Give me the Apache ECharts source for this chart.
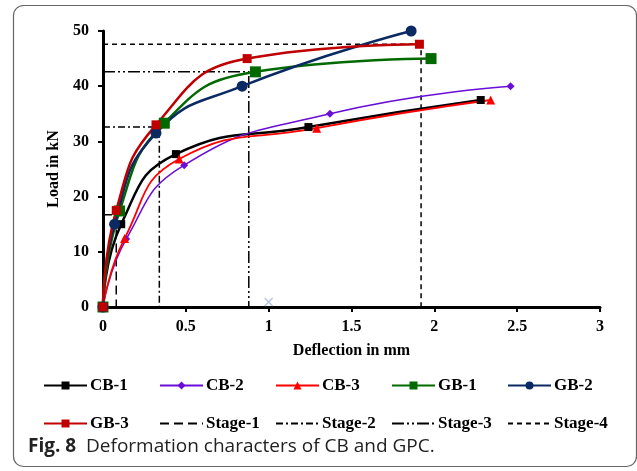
<!DOCTYPE html>
<html>
<head>
<meta charset="utf-8">
<script src="https://cdn.jsdelivr.net/npm/echarts@6/dist/echarts.min.js"></script>
<style>html,body{margin:0;padding:0;background:#fff}#c{width:637px;height:471px}</style>
</head>
<body>
<div id="c"></div>
<script>
// ---- data ----
const seriesNames = ['CB-1','CB-2','CB-3','GB-1','GB-2','GB-3'];
const cb1Defl = [0, 0.11, 0.44, 1.24, 2.28];
const cb1Load = [0, 15.0, 27.7, 32.6, 37.5];
const cb2Defl = [0, 0.14, 0.49, 1.37, 2.46];
const cb2Load = [0, 12.3, 25.7, 35.0, 40.0];
const cb3Defl = [0, 0.13, 0.46, 1.29, 2.34];
const cb3Load = [0, 12.4, 26.8, 32.4, 37.5];
const gb1Defl = [0, 0.10, 0.37, 0.92, 1.98];
const gb1Load = [0, 17.4, 33.3, 42.6, 45.0];
const gb2Defl = [0, 0.07, 0.32, 0.84, 1.86];
const gb2Load = [0, 15.0, 31.5, 40.0, 50.0];
const gb3Defl = [0, 0.08, 0.32, 0.87, 1.91];
const gb3Load = [0, 17.5, 33.0, 45.0, 47.6];

const stageNames = ['Stage-1','Stage-2','Stage-3','Stage-4'];
const stageDefl = [0.08, 0.34, 0.88, 1.92];
const stageLoad = [16.7, 32.6, 42.6, 47.6];

const strayDefl = [1.0];
const strayLoad = [0.9];

const xTicks = [0, 0.5, 1, 1.5, 2, 2.5, 3];
const yTicks = [0, 10, 20, 30, 40, 50];

// ---- styles ----
const serif = 'Liberation Serif';
const looks = {
  'CB-1': {color:'#000000', symbol:'rect', size:8, width:2.5},
  'CB-2': {color:'#6A0DD6', symbol:'diamond', size:8, width:1.5},
  'CB-3': {color:'#FF0000', symbol:'triangle', size:9, width:1.8},
  'GB-1': {color:'#006A00', symbol:'rect', size:11, width:2.5},
  'GB-2': {color:'#0B2A63', symbol:'circle', size:11, width:2.5},
  'GB-3': {color:'#C00000', symbol:'rect', size:9, width:2.5}
};
const stageDash = [[9,5],[7,3,2,3],[12,3,2,3,2,3],[5,4]];

const pairs = (xs, ys) => xs.map((x, i) => [x, ys[i]]);
const curveData = {
  'CB-1': pairs(cb1Defl, cb1Load), 'CB-2': pairs(cb2Defl, cb2Load),
  'CB-3': pairs(cb3Defl, cb3Load), 'GB-1': pairs(gb1Defl, gb1Load),
  'GB-2': pairs(gb2Defl, gb2Load), 'GB-3': pairs(gb3Defl, gb3Load)
};

const series = [];
stageNames.forEach((n, i) => {
  series.push({
    name: n, type: 'line', symbol: 'none', silent: true, z: 1,
    data: [[0, stageLoad[i]], [stageDefl[i], stageLoad[i]], [stageDefl[i], 0]],
    lineStyle: {color: '#000', width: 1.5, type: stageDash[i]},
    itemStyle: {color: '#000'}
  });
});
seriesNames.forEach(n => {
  const L = looks[n];
  series.push({
    name: n, type: 'line', smooth: 0.5, z: 3,
    data: curveData[n], symbol: L.symbol, symbolSize: L.size, showSymbol: true,
    lineStyle: {color: L.color, width: L.width},
    itemStyle: {color: L.color}
  });
});
series.push({
  name: 'stray', type: 'scatter', data: pairs(strayDefl, strayLoad), silent: true,
  symbol: 'path://M0,0L10,10M10,0L0,10', symbolSize: 8,
  itemStyle: {color: 'none', borderColor: '#9FB0DA', borderWidth: 1.2}
});

// legend layout
const legendOrder = ['CB-1','CB-2','CB-3','GB-1','GB-2','GB-3','Stage-1','Stage-2','Stage-3','Stage-4'];
const legendCols = [43, 159, 275, 391, 507];
const legendRows = [377, 415];
const legends = legendOrder.map((n, i) => {
  const isStage = n.indexOf('Stage') === 0;
  const lg = {
    data: [n], left: legendCols[i % 5], top: legendRows[Math.floor(i / 5)],
    padding: 0, itemWidth: 43, itemHeight: 10, itemGap: 0, selectedMode: false,
    textStyle: {fontFamily: serif, fontWeight: 'bold', fontSize: 17, color: '#000', padding: [0,0,0,-2]}
  };
  if (isStage) lg.itemStyle = {opacity: 0};
  return lg;
});

const chart = echarts.init(document.getElementById('c'), null, {renderer: 'canvas'});
chart.setOption({
  animation: false,
  backgroundColor: '#fff',
  grid: {left: 103, right: 37, top: 31, bottom: 164},
  xAxis: {
    type: 'value', min: xTicks[0], max: xTicks[xTicks.length - 1], interval: 0.5,
    name: 'Deflection in mm', nameLocation: 'middle', nameGap: 36,
    nameTextStyle: {fontFamily: serif, fontWeight: 'bold', fontSize: 16, color: '#000'},
    axisLine: {onZero: false, lineStyle: {color: '#000', width: 3}},
    axisTick: {show: true, length: 5, lineStyle: {color: '#000', width: 2}},
    axisLabel: {margin: 12, fontFamily: serif, fontWeight: 'bold', fontSize: 16, color: '#000',
      formatter: v => String(v)},
    splitLine: {show: false}
  },
  yAxis: {
    type: 'value', min: yTicks[0], max: yTicks[yTicks.length - 1], interval: 10,
    name: 'Load in kN', nameLocation: 'middle', nameGap: 37,
    nameTextStyle: {fontFamily: serif, fontWeight: 'bold', fontSize: 16, color: '#000'},
    axisLine: {show: true, onZero: false, lineStyle: {color: '#000', width: 3}},
    axisTick: {show: true, length: 5, lineStyle: {color: '#000', width: 2}},
    axisLabel: {margin: 14, fontFamily: serif, fontWeight: 'bold', fontSize: 16, color: '#000'},
    splitLine: {show: false}
  },
  legend: legends,
  series: series,
  graphic: [
    {type: 'rect', shape: {x: 13.5, y: 5.5, width: 623, height: 461, r: 10}, silent: true,
      style: {fill: 'none', stroke: '#666', lineWidth: 1.2}, z: -1},
    {type: 'text', left: 28, top: 437, silent: true,
      style: {
        text: '{b|Fig. 8}  Deformation characters of CB and GPC.',
        font: '19px "Open Sans"', fill: '#222',
        rich: {b: {fontFamily: 'Open Sans', fontWeight: 'bold', fontSize: 19, fill: '#222'}}
      }}
  ]
});
</script>
</body>
</html>
